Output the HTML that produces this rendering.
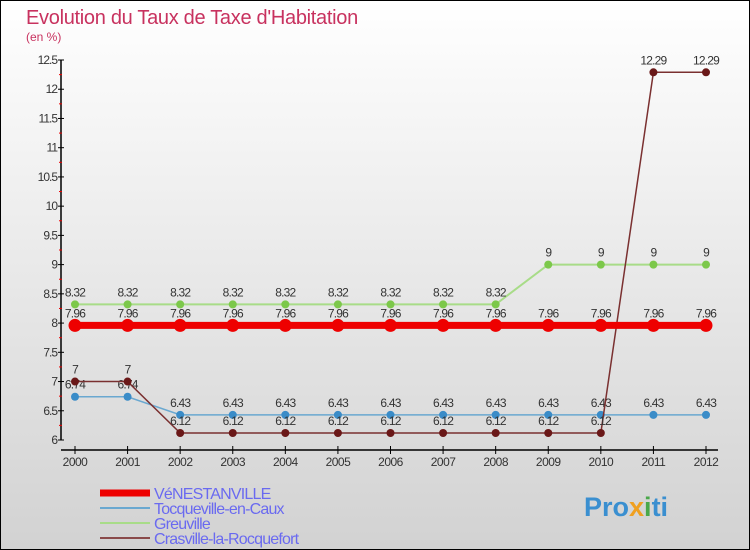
<!DOCTYPE html>
<html><head><meta charset="utf-8"><style>
html,body{margin:0;padding:0}
body{width:750px;height:550px;overflow:hidden;font-family:"Liberation Sans",sans-serif}
svg{display:block}
</style></head><body>
<svg id="c" width="750" height="550" xmlns="http://www.w3.org/2000/svg">
<defs><linearGradient id="bg" x1="0" y1="0" x2="0" y2="1"><stop offset="0" stop-color="#ffffff"/><stop offset="1" stop-color="#d2d2d2"/></linearGradient></defs>
<rect x="0.5" y="0.5" width="749" height="549" fill="url(#bg)" stroke="#000"/>
<text x="26" y="24" font-size="20" fill="#c8325f" letter-spacing="-0.3">Evolution du Taux de Taxe d'Habitation</text>
<text x="26" y="41" font-size="12" fill="#c8325f">(en %)</text>
<g id="axes"></g><g id="series"></g><g id="legend"></g>
<text x="584" y="516" font-size="27" font-weight="bold" fill="#3a8fd0">Pro<tspan fill="#f0a020">x</tspan><tspan fill="#4aa84a">i</tspan>ti</text>
</svg>
<script>
const years=[2000,2001,2002,2003,2004,2005,2006,2007,2008,2009,2010,2011,2012];
const yTicks=[6,6.5,7,7.5,8,8.5,9,9.5,10,10.5,11,11.5,12,12.5];
const names=["VéNESTANVILLE","Tocqueville-en-Caux","Greuville","Crasville-la-Rocquefort"];
const vVen=[7.96,7.96,7.96,7.96,7.96,7.96,7.96,7.96,7.96,7.96,7.96,7.96,7.96];
const vToc=[6.74,6.74,6.43,6.43,6.43,6.43,6.43,6.43,6.43,6.43,6.43,6.43,6.43];
const vGre=[8.32,8.32,8.32,8.32,8.32,8.32,8.32,8.32,8.32,9,9,9,9];
const vCra=[7,7,6.12,6.12,6.12,6.12,6.12,6.12,6.12,6.12,6.12,12.29,12.29];
const NS="http://www.w3.org/2000/svg";
const X=i=>75+i*(706-75)/12;
const Y=v=>440-(v-6)*(380/6.5);
function mk(p,t,a){const e=document.createElementNS(NS,t);for(const k in a)e.setAttribute(k,a[k]);p.appendChild(e);return e;}
const ax=document.getElementById('axes');
const yl=mk(ax,'line',{x1:61,y1:60,x2:61,y2:440,stroke:'#000','stroke-width':1.5});


const xl=mk(ax,'line',{x1:61,y1:450,x2:718,y2:450,stroke:'#000','stroke-width':1.5});


yTicks.forEach(v=>{
  mk(ax,'line',{x1:58,y1:Y(v),x2:64,y2:Y(v),stroke:'#000'});
  if(v<12.5) mk(ax,'line',{x1:59,y1:Y(v+0.25),x2:62,y2:Y(v+0.25),stroke:'#e00'});
  const t=mk(ax,'text',{x:57,y:Y(v)+4,'font-size':12,fill:'#333','text-anchor':'end','letter-spacing':'-1'});
  t.textContent=String(v);
  
  
});
years.forEach((y,i)=>{
  mk(ax,'line',{x1:X(i),y1:446,x2:X(i),y2:454,stroke:'#000'});
  const t=mk(ax,'text',{x:X(i),y:466,'font-size':12,fill:'#333','text-anchor':'middle','letter-spacing':'-0.5'});
  t.textContent=y;
  
  
});
const sg=document.getElementById('series');
const defs=[
 {v:vGre,c:'#a8dc88',pc:'#7cc84a',w:2,r:4,n:'greuville'},
 {v:vToc,c:'#6aa8d0',pc:'#3a8cc8',w:1.5,r:4,n:'tocqueville'},
 {v:vCra,c:'#7a3030',pc:'#6a1818',w:1.5,r:4,n:'crasville'},
 {v:vVen,c:'#ee0000',pc:'#ee0000',w:7,r:6.5,n:'venestanville'}];
defs.forEach(s=>{
  const pl=mk(sg,'polyline',{points:s.v.map((v,i)=>X(i)+','+Y(v)).join(' '),fill:'none',stroke:s.c,'stroke-width':s.w});
  
  
  s.v.forEach((v,i)=>{
    const c=mk(sg,'circle',{cx:X(i),cy:Y(v),r:s.r,fill:s.pc});
    
    
    const t=mk(sg,'text',{x:X(i),y:Y(v)-8,'font-size':12,fill:'#333','text-anchor':'middle','letter-spacing':'-0.8'});
    t.textContent=String(v);
    
    
  });
});
const lg=document.getElementById('legend');
const lc=['#ee0000','#6aa8d0','#a8dc88','#8a4a4a'],lw=[7,2,2,2];
names.forEach((n,i)=>{
  const y=493+i*15;
  const l=mk(lg,'line',{x1:100,y1:y,x2:150,y2:y,stroke:lc[i],'stroke-width':lw[i]});
  
  
  const t=mk(lg,'text',{x:154,y:y+6,'font-size':16,fill:'#6a6af0','letter-spacing':'-0.8'});
  t.textContent=n;
  
  
});
</script>
</body></html>
